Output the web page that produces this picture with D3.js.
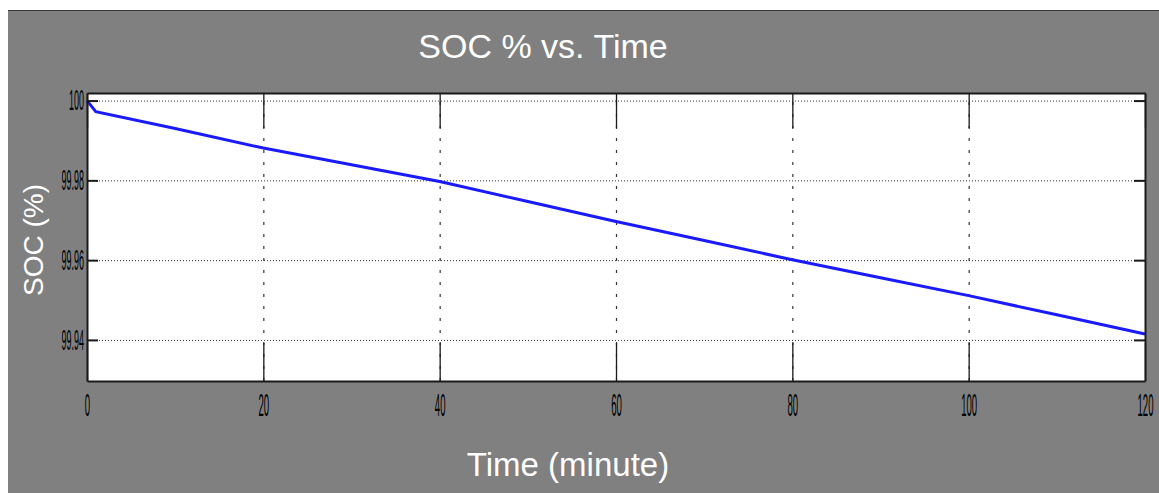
<!DOCTYPE html>
<html>
<head>
<meta charset="utf-8">
<script src="https://cdn.jsdelivr.net/npm/d3@7"></script>
<style>
  body { margin: 0; background: #fff; }
  text { font-family: "Liberation Sans", Arial, sans-serif; }
</style>
</head>
<body>
<svg id="chart" width="1159" height="493"></svg>
<script>
var WIDTH = 1159
var HEIGHT = 493

// data
var timeMin = [0, 1, 10, 20, 30, 40, 50, 60, 70, 80, 90, 100, 110, 120];
var socPct = [100, 99.9972, 99.9930, 99.9881, 99.9839, 99.9797, 99.9747, 99.9697, 99.9649, 99.9601, 99.9556, 99.9511, 99.9463, 99.9415];
var xTicks = [0, 20, 40, 60, 80, 100, 120];
var yTicks = [99.94, 99.96, 99.98, 100];
var yTickLabels = ["99.94", "99.96", "99.98", "100"];

var plotLeft = 87, plotRight = 1145, plotTop = 93, plotBottom = 381;

var svg = d3.select("#chart");

// figure background (white strip top/left, grey body)
svg.append("rect").attr("x", 8).attr("y", 10).attr("width", WIDTH - 8).attr("height", HEIGHT - 10).attr("fill", "#808080");
svg.append("line").attr("x1", 8).attr("x2", WIDTH).attr("y1", 10.5).attr("y2", 10.5).attr("stroke", "#3a3a3a").attr("stroke-width", 1);

var x = d3.scaleLinear().domain([0, 120]).range([plotLeft, plotRight]);
var y = d3.scaleLinear().domain([99.9297, 100.0019]).range([plotBottom, plotTop]);

// plot area
svg.append("rect").attr("x", plotLeft).attr("y", plotTop)
    .attr("width", plotRight - plotLeft).attr("height", plotBottom - plotTop).attr("fill", "#fff");

// grid lines
var hGrid = svg.append("g").attr("transform", "translate(" + plotLeft + ",0)")
    .call(d3.axisLeft(y).tickValues(yTicks).tickSize(-(plotRight - plotLeft)).tickFormat(""));
hGrid.select(".domain").remove();
hGrid.selectAll("line").attr("stroke", "#333").attr("stroke-dasharray", "1,2");

var vGrid = svg.append("g").attr("transform", "translate(0," + plotBottom + ")")
    .call(d3.axisBottom(x).tickValues(xTicks.slice(1, -1)).tickSize(-(plotBottom - plotTop)).tickFormat(""));
vGrid.select(".domain").remove();
vGrid.selectAll("line").attr("stroke", "#333").attr("stroke-width", 1.2).attr("stroke-dasharray", "3,9");

// the SOC line
var line = d3.line()
    .x(function (d, i) { return x(timeMin[i]); })
    .y(function (d) { return y(d); });

svg.append("path")
    .datum(socPct)
    .attr("d", line)
    .attr("fill", "none")
    .attr("stroke", "#1a1aff")
    .attr("stroke-width", 3);

// axes with inward ticks
function styleAxis(g) {
    g.select(".domain").attr("stroke", "#1a1a1a").attr("stroke-width", 2);
    g.selectAll(".tick line").attr("stroke", "#1a1a1a").attr("stroke-width", 2);
}

var yAxis = svg.append("g").attr("transform", "translate(" + plotLeft + ",0)")
    .call(d3.axisLeft(y).tickValues(yTicks).tickSize(-11).tickSizeOuter(0).tickPadding(3)
        .tickFormat(function (d, i) { return yTickLabels[i]; }));
styleAxis(yAxis);
yAxis.selectAll("text")
    .attr("fill", "#000")
    .style("font-size", "29px")
    .attr("transform", "scale(0.31,1)")
    .attr("x", -3 / 0.31);

svg.append("g").attr("transform", "translate(" + plotRight + ",0)")
    .call(d3.axisRight(y).tickValues(yTicks).tickSize(-11).tickSizeOuter(0).tickFormat(""))
    .call(styleAxis);

svg.append("g").attr("transform", "translate(0," + plotTop + ")")
    .call(d3.axisTop(x).tickValues(xTicks).tickSize(-35).tickSizeOuter(0).tickFormat(""))
    .call(styleAxis)
    .selectAll(".tick line").attr("stroke-width", 1.3);

var xAxis = svg.append("g").attr("transform", "translate(0," + plotBottom + ")")
    .call(d3.axisBottom(x).tickValues(xTicks).tickSize(-38).tickSizeOuter(0).tickPadding(12));
styleAxis(xAxis);
xAxis.selectAll(".tick line").attr("stroke-width", 1.3);
xAxis.selectAll("text")
    .attr("fill", "#000")
    .style("font-size", "32px")
    .attr("transform", "scale(0.3,1)")
    .attr("dy", "0.71em");

// titles
svg.append("text")
    .attr("x", 543).attr("y", 58)
    .attr("text-anchor", "middle")
    .style("font-size", "34px")
    .attr("fill", "#fff")
    .text("SOC % vs. Time");

svg.append("text")
    .attr("x", 568).attr("y", 476)
    .attr("text-anchor", "middle")
    .style("font-size", "33px")
    .attr("fill", "#fff")
    .text("Time (minute)");

svg.append("text")
    .attr("transform", "translate(43,240) rotate(-90)")
    .attr("text-anchor", "middle")
    .style("font-size", "28px")
    .attr("fill", "#fff")
    .text("SOC (%)");
</script>
</body>
</html>
